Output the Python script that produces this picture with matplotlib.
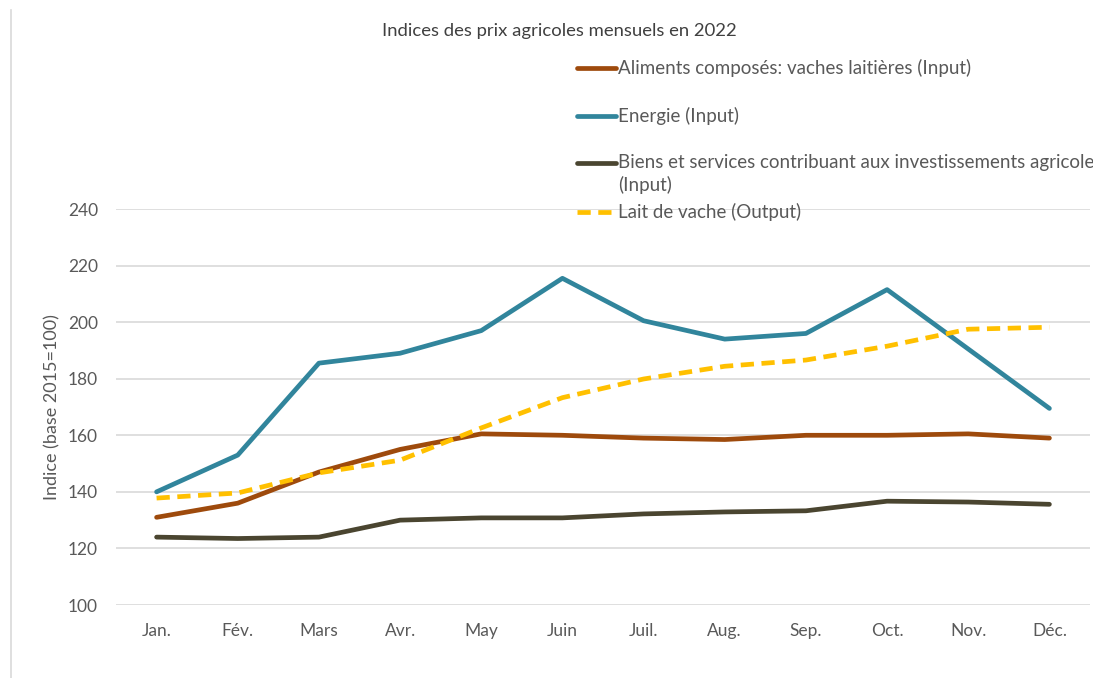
import matplotlib
matplotlib.use("Agg")
import matplotlib.pyplot as plt
from matplotlib.lines import Line2D

months = ["Jan.", "Fév.", "Mars", "Avr.", "May", "Juin", "Juil.", "Aug.", "Sep.", "Oct.", "Nov.", "Déc."]

aliments = [131, 136, 147, 155, 160.5, 160, 159, 158.5, 160, 160, 160.5, 159]
energie = [140, 153, 185.5, 189, 197, 215.5, 200.5, 194, 196, 211.5, 190.5, 169.5]
biens = [124, 123.5, 124, 130, 130.8, 130.8, 132.2, 132.9, 133.3, 136.7, 136.4, 135.6]
lait = [137.8, 139.6, 146.7, 151.2, 162.6, 173.3, 179.9, 184.4, 186.6, 191.5, 197.5, 198.2]

labels = [
    "Aliments composés: vaches laitières (Input)",
    "Energie (Input)",
    "Biens et services contribuant aux investissements agricole\n(Input)",
    "Lait de vache (Output)",
]
colors = ["#9E4A0C", "#31859C", "#4A4530", "#FFC000"]
styles = ["-", "-", "-", "--"]
yticks = [100, 120, 140, 160, 180, 200, 220, 240]

plt.rcParams['font.family'] = ['Lato', 'DejaVu Sans']
txt = "#595959"

W, H = 1093, 678
fig = plt.figure(figsize=(W / 100, H / 100), dpi=100)
ax = fig.add_axes([116 / W, 1 - 605 / H, (1090 - 116) / W, (605 - 209) / H])

x = list(range(len(months)))
series = [aliments, energie, biens, lait]
lw = 3.4
for vals, c, ls in zip(series, colors, styles):
    ln, = ax.plot(x, vals, color=c, lw=lw, ls=ls, solid_capstyle="round", dash_capstyle="butt", zorder=3)
    if ls == "--":
        ln.set_dashes((2.8, 1.6))

ax.set_xlim(-0.5, len(months) - 0.5)
ax.set_ylim(100, 240)
ax.set_yticks(yticks)
ax.set_xticks(x)
ax.set_xticklabels(months)
ax.tick_params(axis="both", length=0, labelsize=12.5, colors=txt)
ax.tick_params(axis="x", pad=13)
ax.tick_params(axis="y", pad=13)
ax.grid(axis="y", color="#D9D9D9", lw=1.2, zorder=0)
for s in ax.spines.values():
    s.set_visible(False)
ax.set_ylabel("Indice (base 2015=100)", fontsize=13, color=txt, labelpad=5)

fig.text(559 / W, 1 - 31 / H, "Indices des prix agricoles mensuels en 2022", ha="center", va="center",
         fontsize=13.3, color="#404040")

# legend (Excel-like layout)
ys = [68, 116, 163, 212]
for lab, c, ls, yy in zip(labels, colors, styles, ys):
    hl = Line2D([577 / W, 616 / W], [1 - yy / H, 1 - yy / H], transform=fig.transFigure,
                color=c, lw=lw, ls=ls, solid_capstyle="round")
    if ls == "--":
        hl.set_dashes((2.8, 1.6))
    fig.add_artist(hl)
    if "\n" in lab:
        fig.text(618 / W, 1 - (yy - 9) / H, lab, ha="left", va="top", fontsize=13.5, color=txt,
                 linespacing=1.35)
    else:
        fig.text(618 / W, 1 - yy / H, lab, ha="left", va="center", fontsize=13.5, color=txt)

fig.add_artist(Line2D([11 / W, 11 / W], [0, 1 - 10 / H], transform=fig.transFigure, color="#D9D9D9", lw=1.2))

fig.savefig("out.png", dpi=100, facecolor="white")
